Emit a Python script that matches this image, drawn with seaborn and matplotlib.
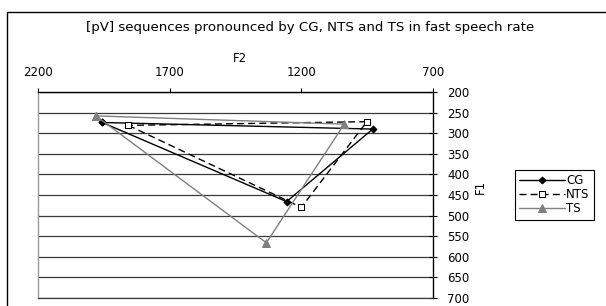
import matplotlib
matplotlib.use("Agg")
import matplotlib.pyplot as plt
import seaborn as sns
import pandas as pd
from matplotlib.patches import Rectangle

# Data (F2, F1) for vowels i, a, u, closed back to i
series = ["CG", "NTS", "TS"]
cg_f2 = [1956, 1256, 929, 1956]
cg_f1 = [274, 466, 290, 274]
nts_f2 = [1857, 1200, 951, 1857]
nts_f1 = [281, 480, 272, 281]
ts_f2 = [1980, 1333, 1037, 1980]
ts_f1 = [258, 566, 278, 258]

x_ticks = [2200, 1700, 1200, 700]
y_ticks = list(range(200, 701, 50))

sns.set_theme(style="white")
plt.rcParams['font.family'] = ['DejaVu Sans']
plt.rcParams['text.color'] = 'black'
plt.rcParams['xtick.labelcolor'] = 'black'
plt.rcParams['ytick.labelcolor'] = 'black'

FS = 8.5
fig = plt.figure(figsize=(6.06, 3.06), dpi=100)
ax = fig.add_axes([38/606, 1-298/306, (433-38)/606, (298-92)/306])

styles = {
    "CG": dict(color="black", marker="D", markersize=3.5, markerfacecolor="black",
               markeredgecolor="black", linestyle="-", linewidth=1.0),
    "NTS": dict(color="black", marker="s", markersize=5, markerfacecolor="white",
                markeredgecolor="black", linestyle=(0, (5, 3)), linewidth=1.0),
    "TS": dict(color="#808080", marker="^", markersize=6, markerfacecolor="#808080",
               markeredgecolor="#808080", linestyle="-", linewidth=1.0),
}
data = {"CG": (cg_f2, cg_f1), "NTS": (nts_f2, nts_f1), "TS": (ts_f2, ts_f1)}

for name in series:
    f2, f1 = data[name]
    df = pd.DataFrame({"F2": f2, "F1": f1})
    sns.lineplot(data=df, x="F2", y="F1", sort=False, estimator=None, ax=ax,
                 label=name, **styles[name])

ax.set_xlim(2200, 700)
ax.set_ylim(700, 200)
ax.set_xticks(x_ticks)
ax.set_yticks(y_ticks)
ax.xaxis.tick_top()
ax.yaxis.tick_right()
ax.tick_params(axis="x", direction="out", length=3, width=0.8, color="black",
               labelsize=FS, pad=6, labelcolor="black")
ax.tick_params(axis="y", direction="inout", length=6, width=0.8, color="black",
               labelsize=FS, pad=7, labelcolor="black")
ax.set_xlabel("")
ax.set_ylabel("")
for y in y_ticks:
    ax.axhline(y, color="#3a3a3a", linewidth=0.9, zorder=0)

for s in ["top", "right"]:
    ax.spines[s].set_color("black")
    ax.spines[s].set_linewidth(1.0)
ax.spines["left"].set_color("#999999")
ax.spines["left"].set_linewidth(1.0)
ax.spines["bottom"].set_color("#3a3a3a")
ax.spines["bottom"].set_linewidth(0.9)
ax.set_facecolor("white")

leg = ax.legend(loc="upper left", bbox_to_anchor=(515/606, 1-170/306),
                bbox_transform=fig.transFigure, frameon=True, fancybox=False,
                framealpha=1, edgecolor="black", fontsize=FS, handlelength=3.9,
                borderpad=0.35, labelspacing=0.1, handletextpad=0.1,
                borderaxespad=0, labelcolor="black")
leg.get_frame().set_linewidth(0.8)

fig.text(310/606, 1-27/306, "[pV] sequences pronounced by CG, NTS and TS in fast speech rate",
         ha="center", va="center", fontsize=9.6, color="black")
fig.text(240/606, 1-58/306, "F2", ha="center", va="center", fontsize=FS, color="black")
fig.text(480/606, 1-187/306, "F1", ha="center", va="center", fontsize=FS, rotation=90,
         color="black")

fig.patches.append(Rectangle((7/606, -0.01), 1.0, 1-12/306+0.01, transform=fig.transFigure,
                             fill=False, edgecolor="black", linewidth=1.0))

fig.savefig("out.png", dpi=100)
